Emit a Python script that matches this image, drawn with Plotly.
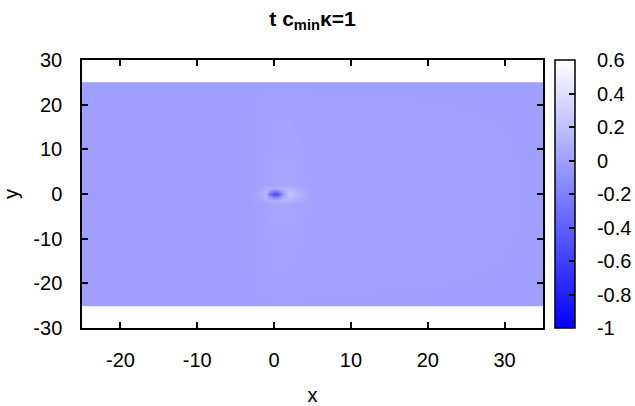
import plotly.graph_objects as go

# grid nodes and field values
x_nodes = [-25, -24.95, -3, -2, -1, -0.5, 0, 0.5, 1, 2, 3, 4, 5, 34.95, 35]
y_nodes = [-25, -24.95, -2.2, -1.3, -0.6, 0, 0.6, 1.3, 2.2, 24.95, 25]
row_far = [0] * 15
row_22 = [0, 0, 0, 0.01, 0.02, 0.03, 0.04, 0.04, 0.04, 0.04, 0.03, 0.02, 0.01, 0, 0]
row_13 = [0, 0, 0, 0.03, 0.08, 0.1, 0.1, 0.11, 0.13, 0.13, 0.08, 0.04, 0.01, 0, 0]
row_06 = [0, 0, 0, 0.05, 0.14, -0.08, -0.28, -0.22, 0.02, 0.2, 0.12, 0.05, 0.01, 0, 0]
row_00 = [0, 0, 0, 0.06, 0.12, -0.32, -0.55, -0.48, -0.12, 0.22, 0.15, 0.06, 0.01, 0, 0]
z_rows = [row_far, row_far, row_22, row_13, row_06, row_00, row_06, row_13, row_22, row_far, row_far]

x_ticks = [-20, -10, 0, 10, 20, 30]
y_ticks = [-30, -20, -10, 0, 10, 20, 30]
cb_ticks = [-1, -0.8, -0.6, -0.4, -0.2, 0, 0.2, 0.4, 0.6]
zmin, zmax = -1, 0.6

font = "Liberation Sans, Arial, sans-serif"
FS = 20
NB = "\u00a0"

fig = go.Figure(go.Heatmap(
    x=x_nodes, y=y_nodes, z=z_rows,
    zsmooth="best", zmin=zmin, zmax=zmax,
    colorscale=[[0, "rgb(0,0,255)"], [1, "rgb(255,255,255)"]],
    colorbar=dict(
        thickness=20, len=1, lenmode="fraction", y=0.5, yanchor="middle", ypad=0,
        x=1.026, xanchor="left", xpad=0,
        outlinecolor="black", outlinewidth=1.5,
        ticks="inside", ticklen=6, tickcolor="black", tickwidth=1.5,
        tickvals=cb_ticks, ticktext=[NB * 3 + f"{v:g}" for v in cb_ticks],
        tickfont=dict(size=FS, family=font, color="black"),
    ),
    hoverinfo="skip",
))

# tick marks on the left edge of the colour bar (gnuplot mirrors them)
cb_x0 = 1.026
for v in cb_ticks[1:-1]:
    yp = (v - zmin) / (zmax - zmin)
    fig.add_shape(type="line", xref="paper", yref="paper",
                  x0=cb_x0, x1=cb_x0 + 6 / 461, y0=yp, y1=yp,
                  line=dict(color="black", width=1.5))

axis_common = dict(
    showline=True, linecolor="black", linewidth=1.5, mirror="ticks",
    ticks="inside", ticklen=6, tickcolor="black", tickwidth=1.5,
    showgrid=False, zeroline=False, automargin=False,
    tickfont=dict(size=FS, family=font, color="black"),
)
fig.update_xaxes(range=[-25, 35], tickvals=x_ticks, ticktext=[f"{v:g}" for v in x_ticks],
                 ticklabelstandoff=13,
                 title=dict(text="x", font=dict(size=FS, family=font, color="black"), standoff=20),
                 **axis_common)
fig.update_yaxes(range=[-30, 30], tickvals=y_ticks, ticktext=[f"{v:g}" for v in y_ticks],
                 ticklabelstandoff=14,
                 title=dict(text="y", font=dict(size=FS, family=font, color="black"), standoff=10),
                 **axis_common)

fig.update_layout(
    width=635, height=406,
    margin=dict(l=82, r=92, t=60, b=78, autoexpand=False),
    plot_bgcolor="white", paper_bgcolor="white",
    title=dict(text="<b>t c<sub>min</sub>κ=1</b>", x=0.5, xref="paper", y=0.955, yanchor="middle",
               font=dict(size=21, family=font, color="black")),
)

fig.write_html("out.html")
